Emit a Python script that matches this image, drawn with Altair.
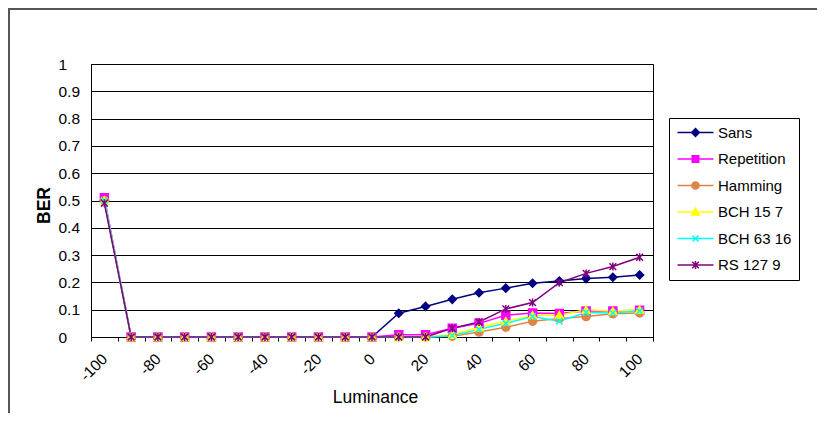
import altair as alt
import pandas as pd

# ---------------- data ----------------
luminance = list(range(-100, 101, 10))
series_names = ["Sans", "Repetition", "Hamming", "BCH 15 7", "BCH 63 16", "RS 127 9"]

sans = [0.50, 0, 0, 0, 0, 0, 0, 0, 0, 0, 0,
        0.087, 0.112, 0.138, 0.162, 0.179, 0.197, 0.205, 0.214, 0.219, 0.227]
repetition = [0.51, 0, 0, 0, 0, 0, 0, 0, 0, 0, 0,
              0.008, 0.008, 0.032, 0.050, 0.080, 0.088, 0.086, 0.095, 0.095, 0.098]
hamming = [0.50, 0, 0, 0, 0, 0, 0, 0, 0, 0, 0,
           0.0, 0.0, 0.003, 0.018, 0.036, 0.058, 0.068, 0.075, 0.085, 0.088]
bch_15_7 = [0.50, 0, 0, 0, 0, 0, 0, 0, 0, 0, 0,
            0.0, 0.0, 0.008, 0.036, 0.058, 0.080, 0.080, 0.100, 0.095, 0.100]
bch_63_16 = [0.50, 0, 0, 0, 0, 0, 0, 0, 0, 0, 0,
             0.0, 0.0, 0.005, 0.028, 0.050, 0.075, 0.058, 0.090, 0.088, 0.095]
rs_127_9 = [0.49, 0, 0, 0, 0, 0, 0, 0, 0, 0, 0,
            0.0, 0.0, 0.032, 0.055, 0.103, 0.126, 0.199, 0.233, 0.258, 0.292]

all_series = [sans, repetition, hamming, bch_15_7, bch_63_16, rs_127_9]

rows = []
for idx, (name, vals) in enumerate(zip(series_names, all_series)):
    for lum, v in zip(luminance, vals):
        rows.append({"series": name, "idx": idx, "luminance": lum, "ber": v})
df = pd.DataFrame(rows)

# ---------------- styles ----------------
FONT = "Liberation Sans"
colors = ["#000080", "#FF00FF", "#DE8544", "#FFFF00", "#00FFFF", "#800080"]

marker_shapes = [
    "diamond",
    "square",
    "circle",
    "triangle-up",
    "M-0.8,-0.8L0.8,0.8M-0.8,0.8L0.8,-0.8",
    "M-0.85,-0.85L0.85,0.85M-0.85,0.85L0.85,-0.85M0,-1V1",
]
LINE = "M-1,0H5"
legend_shapes = [
    LINE + "M2,-0.65L2.65,0L2,0.65L1.35,0Z",
    LINE + "M1.45,-0.55H2.55V0.55H1.45Z",
    LINE + "M1.4,0A0.6,0.6 0 1,0 2.6,0A0.6,0.6 0 1,0 1.4,0Z",
    LINE + "M2,-0.65L2.65,0.5H1.35Z",
    LINE + "M1.5,-0.5L2.5,0.5M1.5,0.5L2.5,-0.5",
    LINE + "M1.45,-0.55L2.55,0.55M1.45,0.55L2.55,-0.55M2,-0.65V0.65",
]

x_axis = alt.Axis(
    values=[v / 2 for v in range(-210, 211, 10)],
    labelExpr="datum.value % 20 == 0 ? '' + datum.value : ''",
    labelAngle=-45,
    labelAlign="right",
    labelBaseline="middle",
    labelPadding=15,
    labelOverlap=False,
    labelFlush=False,
    labelFont=FONT,
    labelFontSize=15.5,
    labelColor="black",
    tickSize=4,
    tickColor="black",
    tickOpacity={"condition": {"test": "datum.value % 10 != 0", "value": 1}, "value": 0},
    domainColor="black",
    grid=False,
    title="Luminance",
    titleFont=FONT,
    titleFontSize=17.5,
    titleFontWeight="normal",
    titleColor="black",
    titleX=284,
    titleY=65,
    titleBaseline="alphabetic",
)

y_axis = alt.Axis(
    values=[i / 10 for i in range(0, 11)],
    format=".1~f",
    labelAlign="left",
    labelBaseline="middle",
    labelPadding=33,
    labelFlush=False,
    labelFont=FONT,
    labelFontSize=15.5,
    labelColor="black",
    ticks=False,
    tickSize=0,
    domainColor="black",
    grid=True,
    gridColor="black",
    gridWidth=1,
    title="BER",
    titleFont=FONT,
    titleFontSize=17.5,
    titleFontWeight="bold",
    titleColor="black",
    titleAngle=270,
    titleX=-42,
    titleY=141,
    titleAlign="center",
    titleBaseline="alphabetic",
)

x_enc = alt.X("luminance:Q", scale=alt.Scale(domain=[-105, 105], nice=False, zero=False), axis=x_axis)
y_enc = alt.Y("ber:Q", scale=alt.Scale(domain=[0, 1], nice=False), axis=y_axis)

legend_obj = alt.Legend(
    title=None,
    orient="none",
    legendX=578,
    legendY=54,
    padding=7,
    rowPadding=10.5,
    symbolSize=144,
    symbolStrokeWidth=1.5,
    symbolOpacity=1,
    labelOffset=27,
    labelFont=FONT,
    labelFontSize=15,
    labelColor="black",
    labelLimit=0,
    strokeColor="black",
    fillColor="white",
)

base = alt.Chart(df)

lines = base.mark_line(strokeWidth=1.5).encode(
    x=x_enc,
    y=y_enc,
    color=alt.Color("series:N", scale=alt.Scale(domain=series_names, range=colors), legend=None),
)

points = base.mark_point(size=64, strokeWidth=1.5, opacity=1).encode(
    x=x_enc,
    y=y_enc,
    fill=alt.Fill("series:N", scale=alt.Scale(domain=series_names, range=colors), legend=None),
    stroke=alt.Stroke("series:N", scale=alt.Scale(domain=series_names, range=colors), legend=None),
    shape=alt.Shape("series:N", scale=alt.Scale(domain=series_names, range=marker_shapes), legend=None),
    order=alt.Order("idx:Q"),
)

legend_layer = base.mark_point(size=144, opacity=0).encode(
    x=x_enc,
    y=y_enc,
    fill=alt.Fill("series:N", scale=alt.Scale(domain=series_names, range=colors), legend=legend_obj),
    stroke=alt.Stroke("series:N", scale=alt.Scale(domain=series_names, range=colors), legend=legend_obj),
    shape=alt.Shape("series:N", scale=alt.Scale(domain=series_names, range=legend_shapes), legend=legend_obj),
)

frame_df = pd.DataFrame({"k": [0]})
frame_top = alt.Chart(frame_df).mark_rule(color="#555555", strokeWidth=2).encode(
    x=alt.value(-83), x2=alt.value(726), y=alt.value(-55)
)
frame_left = alt.Chart(frame_df).mark_rule(color="#555555", strokeWidth=2).encode(
    x=alt.value(-82), y=alt.value(-56), y2=alt.value(349)
)

chart = (
    alt.layer(lines, points, legend_layer, frame_top, frame_left)
    .resolve_scale(color="independent", fill="independent", stroke="independent", shape="independent")
    .properties(
        width=562,
        height=273,
        autosize=alt.AutoSizeParams(type="none"),
        padding={"left": 83, "top": 56, "right": 164, "bottom": 76},
        background="white",
    )
    .configure_view(stroke="black", strokeWidth=1)
)

chart.save("out.html", embed_options={"renderer": "svg", "actions": False})
